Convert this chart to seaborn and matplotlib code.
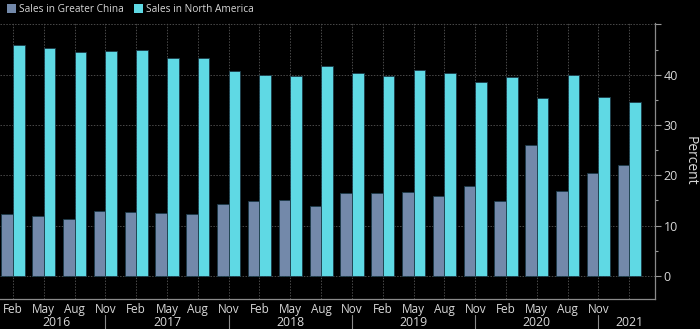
import matplotlib
matplotlib.use("Agg")
import matplotlib.pyplot as plt
import seaborn as sns
import pandas as pd
from matplotlib.patches import Patch
from matplotlib.ticker import FixedLocator

months = ["Feb", "May", "Aug", "Nov"] * 5 + [""]
years = ["2016", "2017", "2018", "2019", "2020", "2021"]
year_pos = [1.4, 5, 9, 13, 17, 20]
year_seps = [3, 7, 11, 15, 19]
china = [12.3, 11.9, 11.3, 12.9, 12.8, 12.6, 12.3, 14.3, 14.9, 15.0, 13.9,
         16.5, 16.5, 16.7, 15.8, 17.9, 14.9, 26.1, 16.8, 20.4, 22.0]
north_america = [45.9, 45.3, 44.6, 44.7, 44.9, 43.3, 43.4, 40.8, 39.9, 39.7, 41.8,
                 40.4, 39.7, 41.0, 40.4, 38.6, 39.5, 35.4, 39.9, 35.6, 34.5]
series = ["Sales in Greater China", "Sales in North America"]
colors = ["#7389aa", "#5fd9e4"]

n = len(china)
df = pd.DataFrame({
    "q": list(range(n)) * 2,
    "value": china + north_america,
    "series": [series[0]] * n + [series[1]] * n,
})

sns.set_style("dark")
plt.rcParams["font.family"] = ["Open Sans", "DejaVu Sans"]
txt = "#d8d8d8"

fig = plt.figure(figsize=(7.0, 3.29), dpi=100, facecolor="black")
ax = fig.add_axes([0.0, 0.0912, 0.936, 0.839])
ax.set_facecolor("black")

sns.barplot(data=df, x="q", y="value", hue="series", palette=colors,
            width=0.75, ax=ax, edgecolor="#1c3a48", linewidth=0.6,
            saturation=1, legend=False)

ax.set_xlim(-0.42, 20.84)
ax.set_ylim(-4.6, 50.3)

ax.yaxis.tick_right()
ax.yaxis.set_label_position("right")
ax.yaxis.set_major_locator(FixedLocator([0, 10, 20, 30, 40, 50]))
ax.set_yticklabels(["0", "10", "20", "30", "40", ""])
ax.yaxis.set_minor_locator(FixedLocator([5, 15, 25, 35, 45]))
ax.tick_params(axis="y", which="both", colors="#9a9a9a", labelcolor=txt,
               labelsize=9, direction="out", length=4, width=0.8, pad=2)
ax.tick_params(axis="y", which="minor", length=2.5)
ax.set_ylabel("Percent", color=txt, fontsize=10, rotation=270, labelpad=14)

ax.set_xticks(range(n))
ax.set_xticklabels(months)
ax.tick_params(axis="x", colors="#9a9a9a", labelcolor=txt, labelsize=8.5,
               direction="out", length=3, width=0.8, pad=0)
ax.set_xlabel("")

ax.grid(True, which="major", color="#4a4a4a", linestyle=(0, (1.5, 1.5)), linewidth=0.7)
ax.set_axisbelow(True)

for s in ["left", "top"]:
    ax.spines[s].set_visible(False)
for s in ["bottom", "right"]:
    ax.spines[s].set_visible(True)
    ax.spines[s].set_color("#8a8a8a")
    ax.spines[s].set_linewidth(0.9)

trans = ax.get_xaxis_transform()
for yl, xp in zip(years, year_pos):
    ax.text(xp, -0.085, yl, transform=trans, ha="center", va="center",
            color=txt, fontsize=8.8, clip_on=False)
for xs in year_seps:
    ax.plot([xs, xs], [-0.058, -0.109], transform=trans, color="#8a8a8a",
            linewidth=0.8, clip_on=False)

handles = [Patch(facecolor=c, edgecolor="none") for c in colors]
fig.legend(handles, series, loc="upper left", bbox_to_anchor=(0.0, 1.01),
           ncol=2, frameon=False, fontsize=7.3, labelcolor=txt,
           handlelength=0.9, handleheight=0.9, handletextpad=0.3,
           columnspacing=1.0, borderaxespad=0.3)

fig.savefig("out.png", dpi=100, facecolor="black")
